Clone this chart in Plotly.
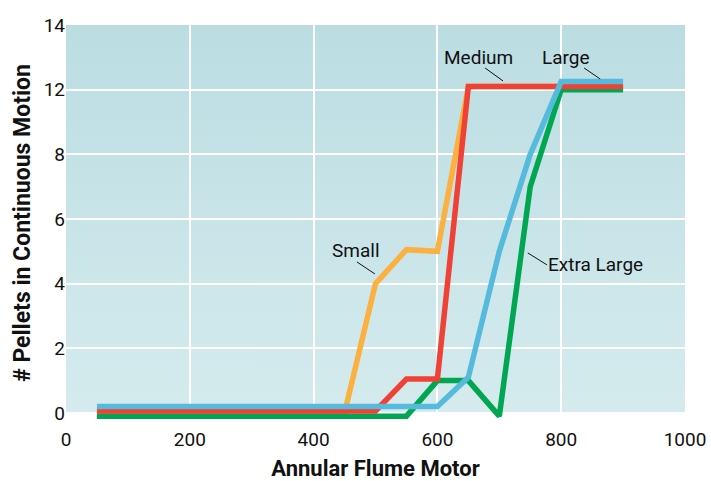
import base64
import numpy as np
import plotly.graph_objects as go

# ---- data (y values in the units printed on the axis) ----
motor = [50, 450, 500, 550, 600, 650, 700, 750, 800, 900]
small = [0.0, 0.0, 4.0, 5.05, 5.0, 12.1, 12.1, 12.1, 12.1, 12.1]
medium = [0.06, 0.06, 0.06, 1.05, 1.05, 12.1, 12.1, 12.1, 12.1, 12.1]
large = [0.2, 0.2, 0.2, 0.2, 0.2, 1.1, 5.0, 8.0, 12.25, 12.25]
extra_large = [-0.1, -0.1, -0.1, -0.1, 1.0, 1.0, -0.1, 7.0, 12.0, 12.0]

y_tick_labels = ["0", "2", "4", "6", "8", "12", "14"]
y_tick_values = [0, 2, 4, 6, 8, 12, 14]
y_tick_pos = [0, 2, 4, 6, 8, 10, 12]
x_ticks = [0, 200, 400, 600, 800, 1000]

colors = {"Small": "#FBB040", "Medium": "#EF4136", "Large": "#55BADB",
          "Extra Large": "#00A651"}


def to_axis(vals):
    # axis scale: the printed labels are evenly spaced on the axis
    return [float(np.interp(v, y_tick_values, y_tick_pos)) if v >= 0 else float(v)
            for v in vals]


FONT = "Roboto"
fig = go.Figure()
for name, vals in [("Small", small), ("Extra Large", extra_large),
                   ("Medium", medium), ("Large", large)]:
    fig.add_trace(go.Scatter(x=motor, y=to_axis(vals), mode="lines", name=name,
                             line=dict(color=colors[name], width=5.5),
                             hoverinfo="skip"))

# label annotations (positions in axis units)
labels = [("Small", 469, 5.01, (470, 4.67, 499, 4.30)),
          ("Medium", 666, 10.98, (677, 10.67, 706, 10.27)),
          ("Large", 807, 10.98, (837, 10.67, 863, 10.33)),
          ("Extra Large", 855, 4.58, (746, 4.95, 777, 4.58))]
for txt, lx, ly, (x0, y0, x1, y1) in labels:
    fig.add_annotation(x=lx, y=ly, text=txt, showarrow=False,
                       font=dict(family=FONT, size=19, color="#111111"))
    fig.add_shape(type="line", x0=x0, y0=y0, x1=x1, y1=y1, xref="x", yref="y",
                  line=dict(color="#111111", width=1))

svg = ('<svg xmlns="http://www.w3.org/2000/svg" width="100" height="100" '
       'preserveAspectRatio="none"><defs><linearGradient id="g" x1="0" y1="0" '
       'x2="0" y2="1"><stop offset="0" stop-color="#BBDDE2"/>'
       '<stop offset="1" stop-color="#D5EBEE"/></linearGradient></defs>'
       '<rect width="100" height="100" fill="url(#g)"/></svg>')
src = "data:image/svg+xml;base64," + base64.b64encode(svg.encode()).decode()
fig.add_layout_image(source=src, xref="x", yref="y", x=0, y=12,
                     sizex=1000, sizey=12, sizing="stretch", layer="below",
                     xanchor="left", yanchor="top")

fig.update_layout(
    width=711, height=481,
    margin=dict(l=66, r=26, t=25, b=60),
    paper_bgcolor="white", plot_bgcolor="rgba(0,0,0,0)",
    showlegend=False,
    font=dict(family=FONT, size=19, color="#111111"),
)
fig.update_xaxes(range=[0, 1000], tickvals=x_ticks,
                 ticktext=[str(v) for v in x_ticks],
                 showgrid=True, gridcolor="white", gridwidth=2,
                 zeroline=False, showline=False, ticks="",
                 automargin=False, ticklabelstandoff=5,
                 title=dict(text="<b>Annular Flume Motor</b>",
                            font=dict(family=FONT, size=22), standoff=12))
fig.update_yaxes(range=[-0.25, 12], tickvals=y_tick_pos, ticktext=y_tick_labels,
                 showgrid=True, gridcolor="white", gridwidth=2,
                 zeroline=False, showline=False, ticks="",
                 automargin=False,
                 title=dict(text="<b># Pellets in Continuous Motion</b>",
                            font=dict(family=FONT, size=23), standoff=6))

fig.write_html("out.html",
               config={"displayModeBar": False, "staticPlot": True},
               post_script="document.body.style.margin='0';"
                           "document.body.style.overflow='hidden';")
